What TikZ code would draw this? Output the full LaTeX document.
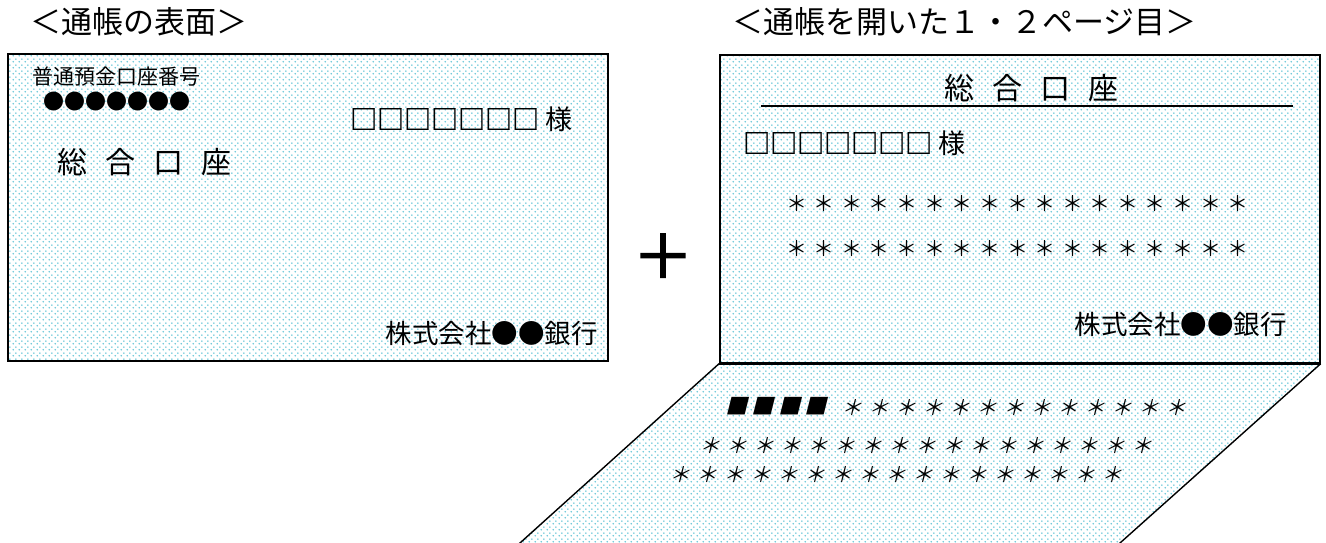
\documentclass[tikz,border=0pt]{standalone}
\usepackage{fontspec}
\setmainfont{Noto Sans CJK JP}
\newfontfamily\jpsl[FakeSlant=0.25]{Noto Sans CJK JP}
\newfontfamily\jpbd[FakeBold=2.5]{Noto Sans CJK JP}
\newfontfamily\jpmd[FakeBold=1.2]{Noto Sans CJK JP}
\usetikzlibrary{patterns.meta}
\definecolor{dotc}{RGB}{105,198,215}
\tikzdeclarepattern{
  name=bdots, type=uncolored,
  bottom left={(0pt,0pt)}, top right={(6pt,6pt)},
  tile size={(6pt,6pt)},
  code={
    \pgfpathcircle{\pgfqpoint{1.5pt}{1.5pt}}{1pt}
    \pgfpathcircle{\pgfqpoint{4.5pt}{4.5pt}}{1pt}
    \pgfusepath{fill}
  }
}
\newcommand\astA{＊\hspace{6.6pt}}
\newcommand\astB{＊\hspace{6pt}}
\newcommand\sq{{\jpmd □□□□□□□}}
\begin{document}
\begin{tikzpicture}[x=1pt,y=-1pt,
  page/.style={draw=black, line width=1.7pt, pattern=bdots, pattern color=dotc, inner sep=0pt},
  txt/.style={inner sep=0pt, text=black},
  fs/.style={font=\fontsize{#1pt}{#1pt}\selectfont},
  sl/.style={font=\fontsize{#1pt}{#1pt}\selectfont\jpsl}
]
\useasboundingbox (0,0) rectangle (1326,542);

% titles
\node[txt, fs=31, anchor=west] (t1) at (30,22) {＜通帳の表面＞};
\node[txt, fs=31, anchor=west] (t2) at (732,22) {＜通帳を開いた１・２ページ目＞};

% front cover
\node[page, minimum width=600pt, minimum height=307pt, anchor=north west] (front) at (7,53) {};
\node[txt, fs=21, anchor=west] (acct) at (32,77) {普通預金口座番号};
\node[txt, fs=21, anchor=west] (num) at (43,102) {●●●●●●●};
\node[txt, fs=27, anchor=west] (name1) at (350,119) {\sq\ 様};
\node[txt, fs=30, anchor=west] (kind1) at (57,162) {総\hspace{18pt}合\hspace{18pt}口\hspace{18pt}座};
\node[txt, fs=26.5, anchor=east] (bank1) at (598,333) {株式会社●●銀行};

% plus
\node[txt, font=\fontsize{60pt}{60pt}\selectfont\jpbd] (plus) at (663,256) {＋};

% opened pages
\coordinate (pbl) at (514.4,548);
\coordinate (pbr) at (1114.4,548);
\node[page, minimum width=600pt, minimum height=308pt, anchor=north west] (open) at (719,54) {};
\fill[pattern=bdots, pattern color=dotc] (open.south west) -- (open.south east) -- (pbr) -- (pbl) -- cycle;
\draw[line width=1.4pt] (open.south west) -- (pbl);
\draw[line width=1.4pt] (open.south east) -- (pbr);
\draw[line width=1.7pt] (open.south west) -- (open.south east);

\node[txt, fs=30] (kind2) at (1031,88) {総\hspace{18pt}合\hspace{18pt}口\hspace{18pt}座};
\coordinate (ulL) at (761,106);
\coordinate (ulR) at (1293,106);
\draw[line width=1.5pt] (ulL) -- (ulR);
\node[txt, fs=27, anchor=west] (name2) at (743,143) {\sq\ 様};
\node[txt, fs=21, anchor=west] (ast1) at (786,204) {\astA\astA\astA\astA\astA\astA\astA\astA\astA\astA\astA\astA\astA\astA\astA\astA＊};
\node[txt, fs=21, anchor=west] (ast2) at (786,249) {\astA\astA\astA\astA\astA\astA\astA\astA\astA\astA\astA\astA\astA\astA\astA\astA＊};
\node[txt, fs=26.5, anchor=east] (bank2) at (1287,324) {株式会社●●銀行};

% lower page
\node[txt, sl=22, anchor=west] (bars) at (725,406) {■\hspace{4.5pt}■\hspace{4.5pt}■\hspace{4.5pt}■};
\node[txt, sl=21, anchor=west] (r1) at (841,408) {\astB\astB\astB\astB\astB\astB\astB\astB\astB\astB\astB\astB＊};
\node[txt, sl=21, anchor=west] (r2) at (699,446) {\astB\astB\astB\astB\astB\astB\astB\astB\astB\astB\astB\astB\astB\astB\astB\astB＊};
\node[txt, sl=21, anchor=west] (r3) at (669,475) {\astB\astB\astB\astB\astB\astB\astB\astB\astB\astB\astB\astB\astB\astB\astB\astB＊};
\end{tikzpicture}
\end{document}
